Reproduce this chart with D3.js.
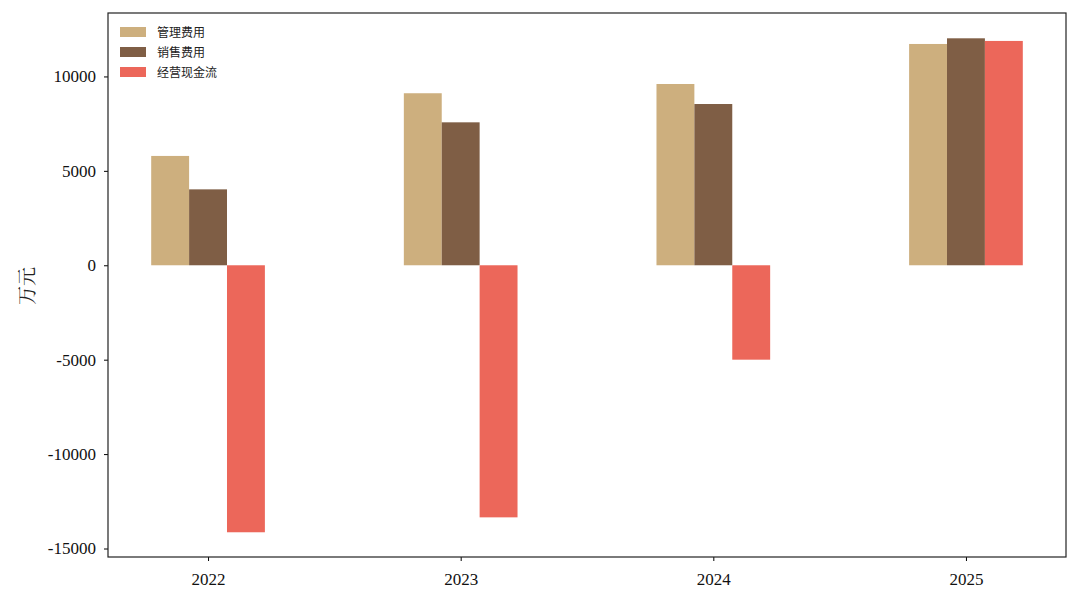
<!DOCTYPE html>
<html><head><meta charset="utf-8">
<script src="https://cdn.jsdelivr.net/npm/d3@7/dist/d3.min.js"></script>
<style>body{margin:0;background:#fff;} svg{display:block;}</style>
</head><body><svg id="c" width="1080" height="603"></svg>
<script>
const categories = ["2022", "2023", "2024", "2025"];
const seriesNames = ["管理费用", "销售费用", "经营现金流"];
const adminCost = [5790, 9110, 9600, 11720];
const salesCost = [4020, 7570, 8540, 12020];
const operatingCash = [-14140, -13350, -5000, 11880];
const yTicks = [-15000, -10000, -5000, 0, 5000, 10000];
const colors = ["#cdaf7e", "#7f5e45", "#ec675a"];

const series = [adminCost, salesCost, operatingCash];
const m = {l:108, r:1066, t:13, b:557};
const svg = d3.select("#c");
const x = d3.scaleLinear().domain([-0.396, 3.396]).range([m.l, m.r]);
const y = d3.scaleLinear().domain([-15450, 13360]).range([m.b, m.t]);
const bw = 0.15;

series.forEach((vals, si) => {
  svg.append("g").selectAll("rect").data(vals).join("rect")
    .attr("x", (d,i) => x(i + (si-1)*bw - bw/2))
    .attr("width", x(bw) - x(0))
    .attr("y", d => y(Math.max(0,d)))
    .attr("height", d => Math.abs(y(d) - y(0)))
    .attr("fill", colors[si]);
});

// axes
const fontSerif = "'Liberation Serif', 'Times New Roman', serif";
const yAxis = svg.append("g").attr("transform", `translate(${m.l},0)`)
  .call(d3.axisLeft(y).tickValues(yTicks).tickFormat(d => String(d)).tickSizeOuter(0).tickSize(4).tickPadding(8));
const xAxis = svg.append("g").attr("transform", `translate(0,${m.b})`)
  .call(d3.axisBottom(x).tickValues([0,1,2,3]).tickFormat(i => categories[i]).tickSizeOuter(0).tickSize(4).tickPadding(12));
[yAxis, xAxis].forEach(a => {
  a.select(".domain").remove();
  a.selectAll("text").attr("font-family", fontSerif).attr("font-size", 17).attr("fill", "#111");
  a.selectAll("line").attr("stroke", "#000");
});
svg.append("rect").attr("x", m.l).attr("y", m.t).attr("width", m.r-m.l).attr("height", m.b-m.t)
  .attr("fill", "none").attr("stroke", "#222").attr("stroke-width", 1.2);

svg.append("text").attr("transform", "translate(34,286) rotate(-90)")
  .attr("text-anchor", "middle").attr("font-family", "'Noto Serif CJK SC','Noto Sans CJK SC',serif")
  .attr("font-size", 19).attr("fill", "#222").text("万元");

// legend
const lg = svg.append("g");
seriesNames.forEach((n, i) => {
  lg.append("rect").attr("x", 120).attr("y", 27 + i*20).attr("width", 26).attr("height", 10).attr("fill", colors[i]);
  lg.append("text").attr("x", 157).attr("y", 36.5 + i*20).attr("font-family", "'Noto Sans CJK SC', sans-serif")
    .attr("font-size", 12).attr("fill", "#222").text(n);
});
</script></body></html>
